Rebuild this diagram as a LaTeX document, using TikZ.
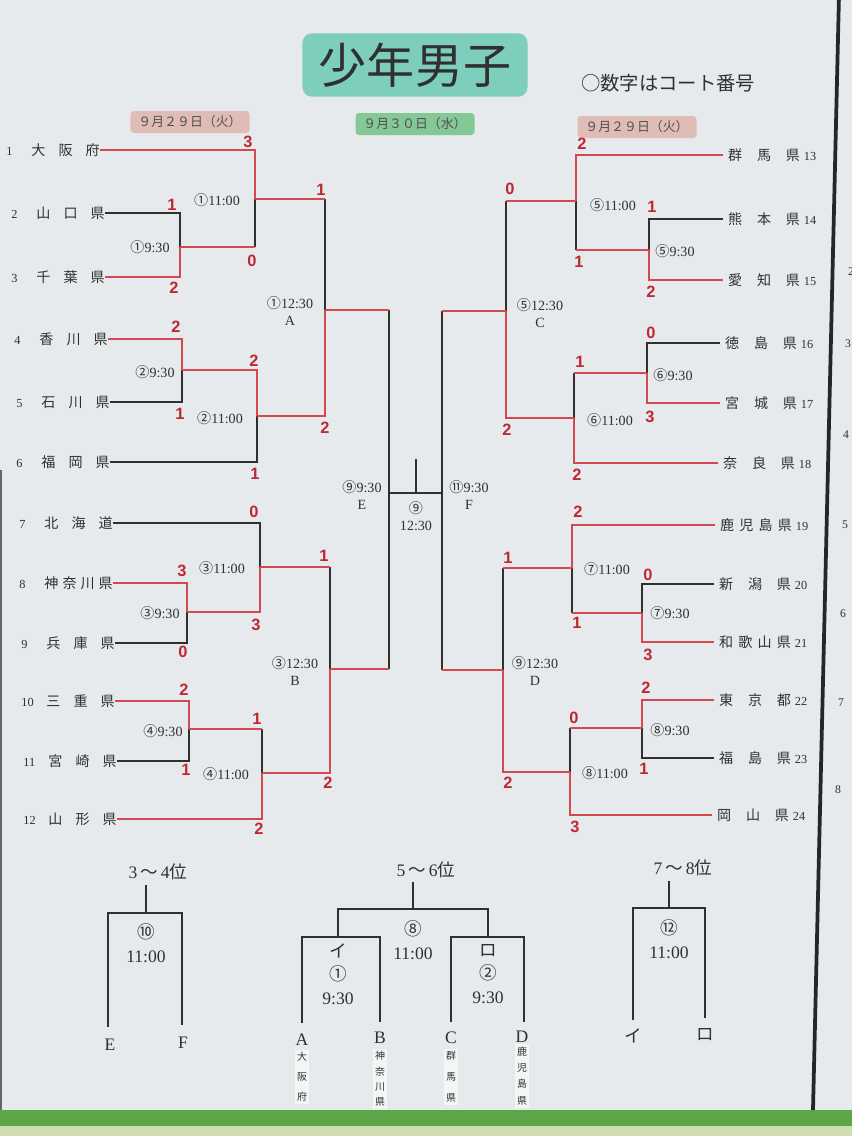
\documentclass[tikz,border=0pt]{standalone}
\usepackage{fontspec}
\setmainfont{Liberation Serif}
\newfontfamily\cjk{Noto Sans CJK JP}
\newfontfamily\scorefont{Liberation Sans}
\definecolor{board}{RGB}{230,234,236}
\definecolor{winred}{RGB}{210,74,80}
\definecolor{scorered}{RGB}{190,40,52}
\definecolor{tagpink}{RGB}{224,188,182}
\definecolor{taggreen}{RGB}{132,200,150}
\definecolor{titleteal}{RGB}{126,206,190}
\definecolor{ink}{RGB}{48,48,48}
\definecolor{stripgreen}{RGB}{92,166,74}
\definecolor{stripyellow}{RGB}{206,222,178}
\tikzstyle{win} = [winred, line width=2.3pt]
\tikzstyle{lose} = [ink, line width=0.9pt]
\tikzstyle{drawline} = [ink, line width=1.2pt]
\tikzstyle{scorelbl} = [text=scorered, font=\scorefont\bfseries\fontsize{14}{14}\selectfont, inner sep=0pt]
\tikzstyle{timelbl} = [text=ink, font=\fontsize{12}{14}\selectfont, inner sep=0pt, align=center]
\tikzstyle{lteam} = [anchor=east, inner sep=0pt, text=ink, font=\fontsize{12}{14}\selectfont]
\tikzstyle{rteam} = [anchor=west, inner sep=0pt, text=ink, font=\fontsize{12}{14}\selectfont]
\tikzstyle{datetag} = [rounded corners=3pt, minimum width=3.57cm, minimum height=0.66cm, text=ink!85, font=\cjk\fontsize{11}{11}\selectfont]
\tikzstyle{bottomlbl} = [text=ink, font=\fontsize{15}{20}\selectfont, inner sep=0pt, align=center]
\tikzstyle{vname} = [text=ink, inner sep=2pt, align=center, fill=white!55!board]
\newcommand{\lteamtxt}[2]{\makebox[0.75cm][l]{\fontsize{10.5}{12}\selectfont #1}{\cjk\makebox[2.05cm]{#2}}}
\newcommand{\rteamtxt}[2]{\hspace{0.15cm}{\cjk\makebox[2.15cm]{#1}}\hspace{0.12cm}\makebox[0.55cm][l]{\fontsize{10.5}{12}\selectfont #2}}
\newcommand{\crt}[1]{{\cjk #1}}
\begin{document}
\begin{tikzpicture}[x=0.03cm, y=0.03cm, yscale=-1]

\useasboundingbox (0,0) rectangle (852,1136);
\fill[board] (0,0) rectangle (852,1136);
\fill[stripgreen] (0,1110) rectangle (852,1126);
\fill[stripyellow] (0,1126) rectangle (852,1136);
\draw[black!85, line width=3.2pt] (839,-5) -- (813,1110);
\draw[black!60, line width=1.5pt] (1,470) -- (1,1110);

\node at (415,65) (title) [fill=titleteal, rounded corners=8pt, minimum width=6.75cm, minimum height=1.9cm, text=ink, font=\cjk\fontsize{41}{41}\selectfont] {少年男子};
\node at (668,83) (note) [text=ink, font=\cjk\fontsize{16.5}{16.5}\selectfont] {○数字はコート番号};

\node at (190,122) (dleft) [datetag, fill=tagpink] {９月２９日（火）};
\node at (415,124) (dmid) [datetag, fill=taggreen] {９月３０日（水）};
\node at (637,127) (dright) [datetag, fill=tagpink] {９月２９日（火）};

\node at (100,150) (t1) [lteam] {\lteamtxt{1}{大\hfill 阪\hfill 府}};
\node at (105,213) (t2) [lteam] {\lteamtxt{2}{山\hfill 口\hfill 県}};
\node at (105,277) (t3) [lteam] {\lteamtxt{3}{千\hfill 葉\hfill 県}};
\node at (108,339) (t4) [lteam] {\lteamtxt{4}{香\hfill 川\hfill 県}};
\node at (110,402) (t5) [lteam] {\lteamtxt{5}{石\hfill 川\hfill 県}};
\node at (110,462) (t6) [lteam] {\lteamtxt{6}{福\hfill 岡\hfill 県}};
\node at (113,523) (t7) [lteam] {\lteamtxt{7}{北\hfill 海\hfill 道}};
\node at (113,583) (t8) [lteam] {\lteamtxt{8}{神\hfill 奈\hfill 川\hfill 県}};
\node at (115,643) (t9) [lteam] {\lteamtxt{9}{兵\hfill 庫\hfill 県}};
\node at (115,701) (t10) [lteam] {\lteamtxt{10}{三\hfill 重\hfill 県}};
\node at (117,761) (t11) [lteam] {\lteamtxt{11}{宮\hfill 崎\hfill 県}};
\node at (117,819) (t12) [lteam] {\lteamtxt{12}{山\hfill 形\hfill 県}};

\node at (723,155) (t13) [rteam] {\rteamtxt{群\hfill 馬\hfill 県}{13}};
\node at (723,219) (t14) [rteam] {\rteamtxt{熊\hfill 本\hfill 県}{14}};
\node at (723,280) (t15) [rteam] {\rteamtxt{愛\hfill 知\hfill 県}{15}};
\node at (720,343) (t16) [rteam] {\rteamtxt{徳\hfill 島\hfill 県}{16}};
\node at (720,403) (t17) [rteam] {\rteamtxt{宮\hfill 城\hfill 県}{17}};
\node at (718,463) (t18) [rteam] {\rteamtxt{奈\hfill 良\hfill 県}{18}};
\node at (715,525) (t19) [rteam] {\rteamtxt{鹿\hfill 児\hfill 島\hfill 県}{19}};
\node at (714,584) (t20) [rteam] {\rteamtxt{新\hfill 潟\hfill 県}{20}};
\node at (714,642) (t21) [rteam] {\rteamtxt{和\hfill 歌\hfill 山\hfill 県}{21}};
\node at (714,700) (t22) [rteam] {\rteamtxt{東\hfill 京\hfill 都}{22}};
\node at (714,758) (t23) [rteam] {\rteamtxt{福\hfill 島\hfill 県}{23}};
\node at (712,815) (t24) [rteam] {\rteamtxt{岡\hfill 山\hfill 県}{24}};

\coordinate (L1a) at (180,247);
\coordinate (L1b) at (255,199);
\coordinate (L2a) at (182,370);
\coordinate (L2b) at (257,416);
\coordinate (LA) at (325,310);
\coordinate (L3a) at (187,612);
\coordinate (L3b) at (260,567);
\coordinate (L4a) at (189,729);
\coordinate (L4b) at (262,773);
\coordinate (LB) at (330,669);
\coordinate (SE) at (389,493);
\coordinate (SF) at (442,493);
\coordinate (FN) at (416,459);
\coordinate (R5a) at (649,250);
\coordinate (R5b) at (576,201);
\coordinate (R6a) at (647,373);
\coordinate (R6b) at (574,418);
\coordinate (RC) at (506,311);
\coordinate (R7a) at (642,613);
\coordinate (R7b) at (572,568);
\coordinate (R8a) at (642,728);
\coordinate (R8b) at (570,772);
\coordinate (RD) at (503,670);

\draw[lose] (t2.east) -| (L1a);
\draw[lose] (L1a -| L1b) -- (L1b);
\draw[lose] (t5.east) -| (L2a);
\draw[lose] (t6.east) -| (L2b);
\draw[lose] (L1b -| LA) -- (LA);
\draw[lose] (t9.east) -| (L3a);
\draw[lose] (t7.east) -| (L3b);
\draw[lose] (t11.east) -| (L4a);
\draw[lose] (L4a -| L4b) -- (L4b);
\draw[lose] (L3b -| LB) -- (LB);
\draw[lose] (LA -| SE) -- (SE);
\draw[lose] (LB -| SE) -- (SE);
\draw[lose] (SE) -- (SF);
\draw[lose] (FN) -- (FN |- SE);
\draw[lose] (RC -| SF) -- (SF);
\draw[lose] (RD -| SF) -- (SF);
\draw[lose] (t14.west) -| (R5a);
\draw[lose] (R5a -| R5b) -- (R5b);
\draw[lose] (t16.west) -| (R6a);
\draw[lose] (R6a -| R6b) -- (R6b);
\draw[lose] (R5b -| RC) -- (RC);
\draw[lose] (t20.west) -| (R7a);
\draw[lose] (R7a -| R7b) -- (R7b);
\draw[lose] (t23.west) -| (R8a);
\draw[lose] (R8a -| R8b) -- (R8b);
\draw[lose] (R7b -| RD) -- (RD);

\draw[win] (t3.east) -| (L1a);
\draw[win] (L1a) -- (L1a -| L1b);
\draw[win] (t1.east) -| (L1b);
\draw[win] (t4.east) -| (L2a);
\draw[win] (L2a) -| (L2b);
\draw[win] (L1b) -- (L1b -| LA);
\draw[win] (L2b) -| (LA);
\draw[win] (t8.east) -| (L3a);
\draw[win] (L3a) -| (L3b);
\draw[win] (t10.east) -| (L4a);
\draw[win] (L4a) -- (L4a -| L4b);
\draw[win] (t12.east) -| (L4b);
\draw[win] (L3b) -- (L3b -| LB);
\draw[win] (L4b) -| (LB);
\draw[win] (LA) -- (LA -| SE);
\draw[win] (LB) -- (LB -| SE);
\draw[win] (t15.west) -| (R5a);
\draw[win] (R5a) -- (R5a -| R5b);
\draw[win] (t13.west) -| (R5b);
\draw[win] (t17.west) -| (R6a);
\draw[win] (R6a) -- (R6a -| R6b);
\draw[win] (t18.west) -| (R6b);
\draw[win] (R5b) -- (R5b -| RC);
\draw[win] (R6b) -| (RC);
\draw[win] (t21.west) -| (R7a);
\draw[win] (R7a) -- (R7a -| R7b);
\draw[win] (t19.west) -| (R7b);
\draw[win] (t22.west) -| (R8a);
\draw[win] (R8a) -- (R8a -| R8b);
\draw[win] (t24.west) -| (R8b);
\draw[win] (R7b) -- (R7b -| RD);
\draw[win] (R8b) -| (RD);
\draw[win] (RC) -- (RC -| SF);
\draw[win] (RD) -- (RD -| SF);

\node at (248,142) (sc1) [scorelbl] {3};
\node at (252,261) (sc2) [scorelbl] {0};
\node at (172,205) (sc3) [scorelbl] {1};
\node at (174,288) (sc4) [scorelbl] {2};
\node at (176,327) (sc5) [scorelbl] {2};
\node at (180,414) (sc6) [scorelbl] {1};
\node at (254,361) (sc7) [scorelbl] {2};
\node at (255,474) (sc8) [scorelbl] {1};
\node at (321,190) (sc9) [scorelbl] {1};
\node at (325,428) (sc10) [scorelbl] {2};
\node at (182,571) (sc11) [scorelbl] {3};
\node at (183,652) (sc12) [scorelbl] {0};
\node at (254,512) (sc13) [scorelbl] {0};
\node at (256,625) (sc14) [scorelbl] {3};
\node at (184,690) (sc15) [scorelbl] {2};
\node at (186,770) (sc16) [scorelbl] {1};
\node at (257,719) (sc17) [scorelbl] {1};
\node at (259,829) (sc18) [scorelbl] {2};
\node at (324,556) (sc19) [scorelbl] {1};
\node at (328,783) (sc20) [scorelbl] {2};
\node at (582,144) (sc21) [scorelbl] {2};
\node at (579,262) (sc22) [scorelbl] {1};
\node at (652,207) (sc23) [scorelbl] {1};
\node at (651,292) (sc24) [scorelbl] {2};
\node at (510,189) (sc25) [scorelbl] {0};
\node at (507,430) (sc26) [scorelbl] {2};
\node at (651,333) (sc27) [scorelbl] {0};
\node at (650,417) (sc28) [scorelbl] {3};
\node at (580,362) (sc29) [scorelbl] {1};
\node at (577,475) (sc30) [scorelbl] {2};
\node at (578,512) (sc31) [scorelbl] {2};
\node at (577,623) (sc32) [scorelbl] {1};
\node at (648,575) (sc33) [scorelbl] {0};
\node at (648,655) (sc34) [scorelbl] {3};
\node at (508,558) (sc35) [scorelbl] {1};
\node at (508,783) (sc36) [scorelbl] {2};
\node at (646,688) (sc37) [scorelbl] {2};
\node at (644,769) (sc38) [scorelbl] {1};
\node at (574,718) (sc39) [scorelbl] {0};
\node at (575,827) (sc40) [scorelbl] {3};

\node at (217,200) (m1b) [timelbl] {\crt{①}11:00};
\node at (150,247) (m1a) [timelbl] {\crt{①}9:30};
\node at (155,372) (m2a) [timelbl] {\crt{②}9:30};
\node at (220,418) (m2b) [timelbl] {\crt{②}11:00};
\node at (290,311) (mA) [timelbl] {\crt{①}12:30\\A};
\node at (222,568) (m3b) [timelbl] {\crt{③}11:00};
\node at (160,613) (m3a) [timelbl] {\crt{③}9:30};
\node at (163,731) (m4a) [timelbl] {\crt{④}9:30};
\node at (226,774) (m4b) [timelbl] {\crt{④}11:00};
\node at (295,671) (mB) [timelbl] {\crt{③}12:30\\B};
\node at (362,495) (mE) [timelbl] {\crt{⑨}9:30\\E};
\node at (416,516) (mFinal) [timelbl] {\crt{⑨}\\12:30};
\node at (469,495) (mF) [timelbl] {\crt{⑪}9:30\\F};
\node at (613,205) (m5b) [timelbl] {\crt{⑤}11:00};
\node at (675,251) (m5a) [timelbl] {\crt{⑤}9:30};
\node at (540,313) (mC) [timelbl] {\crt{⑤}12:30\\C};
\node at (673,375) (m6a) [timelbl] {\crt{⑥}9:30};
\node at (610,420) (m6b) [timelbl] {\crt{⑥}11:00};
\node at (607,569) (m7b) [timelbl] {\crt{⑦}11:00};
\node at (670,613) (m7a) [timelbl] {\crt{⑦}9:30};
\node at (535,671) (mD) [timelbl] {\crt{⑨}12:30\\D};
\node at (670,730) (m8a) [timelbl] {\crt{⑧}9:30};
\node at (605,773) (m8b) [timelbl] {\crt{⑧}11:00};

\node at (158,872) (p34) [bottomlbl] {3\,\crt{～}\,4\crt{位}};
\node at (426,870) (p56) [bottomlbl] {5\,\crt{～}\,6\crt{位}};
\node at (683,868) (p78) [bottomlbl] {7\,\crt{～}\,8\crt{位}};

\coordinate (k34top) at (146,885);
\coordinate (k34) at (146,913);
\coordinate (kE) at (108,1027);
\coordinate (kF) at (182,1025);
\coordinate (k56top) at (413,882);
\coordinate (k56) at (413,909);
\coordinate (kI) at (338,937);
\coordinate (kRo) at (488,937);
\coordinate (kA) at (302,1023);
\coordinate (kB) at (380,1022);
\coordinate (kC) at (451,1022);
\coordinate (kD) at (524,1022);
\coordinate (k78top) at (669,881);
\coordinate (k78) at (669,908);
\coordinate (kI2) at (633,1020);
\coordinate (kRo2) at (705,1018);

\draw[drawline] (k34) -- (k34top);
\draw[drawline] (kE) |- (k34) -| (kF);
\draw[drawline] (k56) -- (k56top);
\draw[drawline] (kI) |- (k56) -| (kRo);
\draw[drawline] (kA) |- (kI) -| (kB);
\draw[drawline] (kC) |- (kRo) -| (kD);
\draw[drawline] (k78) -- (k78top);
\draw[drawline] (kI2) |- (k78) -| (kRo2);

\node at (146,943) (g10) [bottomlbl] {\crt{⑩}\\11:00};
\node at (413,940) (g8) [bottomlbl] {\crt{⑧}\\11:00};
\node at (338,974) (g1) [bottomlbl] {\crt{イ}\\\crt{①}\\9:30};
\node at (488,974) (g2) [bottomlbl] {\crt{ロ}\\\crt{②}\\9:30};
\node at (669,939) (g12) [bottomlbl] {\crt{⑫}\\11:00};

\node at (110,1045) (lE) [bottomlbl] {E};
\node at (183,1043) (lF) [bottomlbl] {F};
\node at (302,1040) (lA) [bottomlbl] {A};
\node at (380,1038) (lB) [bottomlbl] {B};
\node at (451,1038) (lC) [bottomlbl] {C};
\node at (522,1037) (lD) [bottomlbl] {D};
\node at (633,1036) (lI) [bottomlbl] {\crt{イ}};
\node at (705,1035) (lRo) [bottomlbl] {\crt{ロ}};

\node at (302,1077) (vA) [vname, font=\cjk\fontsize{8.5}{17}\selectfont] {大\\阪\\府};
\node at (380,1079) (vB) [vname, font=\cjk\fontsize{8.5}{13}\selectfont] {神\\奈\\川\\県};
\node at (451,1077) (vC) [vname, font=\cjk\fontsize{8.5}{18}\selectfont] {群\\馬\\県};
\node at (522,1076) (vD) [vname, font=\cjk\fontsize{8.5}{14}\selectfont] {鹿\\児\\島\\県};

\node at (851,272) (n2) [text=ink, font=\fontsize{10}{10}\selectfont] {2};
\node at (848,344) (n3) [text=ink, font=\fontsize{10}{10}\selectfont] {3};
\node at (846,435) (n4) [text=ink, font=\fontsize{10}{10}\selectfont] {4};
\node at (845,525) (n5) [text=ink, font=\fontsize{10}{10}\selectfont] {5};
\node at (843,614) (n6) [text=ink, font=\fontsize{10}{10}\selectfont] {6};
\node at (841,703) (n7) [text=ink, font=\fontsize{10}{10}\selectfont] {7};
\node at (838,790) (n8) [text=ink, font=\fontsize{10}{10}\selectfont] {8};

\end{tikzpicture}
\end{document}
